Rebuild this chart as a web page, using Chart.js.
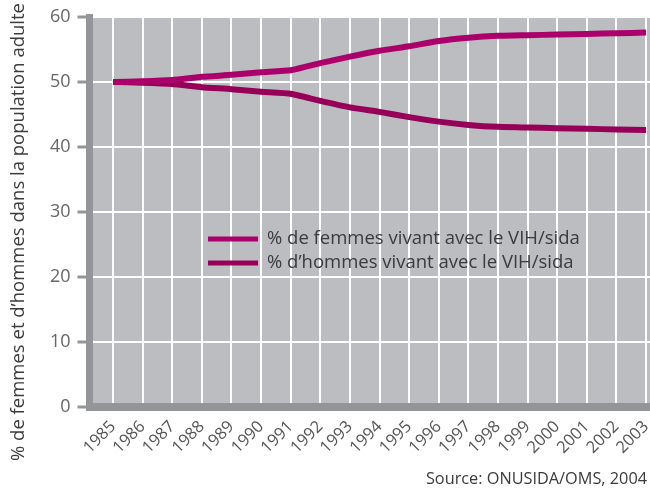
<!DOCTYPE html>
<html>
<head>
<meta charset="utf-8">
<script src="https://cdn.jsdelivr.net/npm/chart.js@4/dist/chart.umd.min.js"></script>
<style>
html,body{margin:0;padding:0;background:#fff;}
canvas{display:block;}
</style>
</head>
<body>
<canvas id="c" width="650" height="489"></canvas>
<script>
const years = [1985,1986,1987,1988,1989,1990,1991,1992,1993,1994,1995,1996,1997,1998,1999,2000,2001,2002,2003];
const women = [50.0,50.1,50.3,50.8,51.1,51.5,51.8,52.9,53.9,54.8,55.5,56.3,56.8,57.1,57.2,57.3,57.4,57.5,57.6];
const men   = [50.0,49.9,49.7,49.2,48.9,48.5,48.2,47.1,46.1,45.4,44.6,43.9,43.4,43.1,43.0,42.9,42.8,42.7,42.6];
const yTicks = [0,10,20,30,40,50,60];
const seriesLabels = ['% de femmes vivant avec le VIH/sida', '% d\u2019hommes vivant avec le VIH/sida'];
const yTitle = '% de femmes et d\u2019hommes dans la population adulte';
const sourceText = 'Source: ONUSIDA/OMS, 2004';

const FONT = '"Open Sans", "Liberation Sans", sans-serif';
const C_WOMEN = '#ab006b';
const C_MEN = '#960059';
const C_BG = '#bcbdc0';
const C_AXIS = '#939598';

const bgPlugin = {
  id: 'bg',
  beforeDraw(chart) {
    const a = chart.chartArea, ctx = chart.ctx;
    ctx.save();
    ctx.fillStyle = C_BG;
    ctx.fillRect(a.left, a.top - 1, a.right - a.left, a.bottom - a.top + 1);
    ctx.restore();
  }
};

const textPlugin = {
  id: 'texts',
  afterDraw(chart) {
    const ctx = chart.ctx;
    ctx.save();
    // y title
    ctx.translate(19, 461);
    ctx.rotate(-Math.PI / 2);
    ctx.font = '18.5px ' + FONT;
    ctx.fillStyle = '#3c3c3c';
    ctx.textAlign = 'left';
    ctx.textBaseline = 'middle';
    ctx.fillText(yTitle, 0, 0);
    ctx.restore();

    // legend
    ctx.save();
    const items = chart.data.datasets;
    const ys = [239, 263];
    items.forEach((ds, i) => {
      ctx.strokeStyle = ds.borderColor;
      ctx.lineWidth = 5;
      ctx.beginPath();
      ctx.moveTo(208, ys[i]);
      ctx.lineTo(258, ys[i]);
      ctx.stroke();
      ctx.font = '18.5px ' + FONT;
      ctx.fillStyle = '#3a3a3a';
      ctx.textAlign = 'left';
      ctx.textBaseline = 'middle';
      ctx.fillText(ds.label, 267, ys[i]);
    });
    // source
    ctx.font = '16.3px ' + FONT;
    ctx.fillStyle = '#3a3a3a';
    ctx.textAlign = 'right';
    ctx.textBaseline = 'alphabetic';
    ctx.fillText(sourceText, 647, 484);
    ctx.restore();
  }
};

new Chart(document.getElementById('c'), {
  type: 'line',
  data: {
    datasets: [
      { label: seriesLabels[0], data: years.map((y, i) => ({x: y, y: women[i]})), borderColor: C_WOMEN, borderWidth: 6, pointRadius: 0, tension: 0.15, fill: false },
      { label: seriesLabels[1], data: years.map((y, i) => ({x: y, y: men[i]})), borderColor: C_MEN, borderWidth: 6, pointRadius: 0, tension: 0.15, fill: false }
    ]
  },
  options: {
    responsive: false,
    animation: false,
    devicePixelRatio: 1,
    layout: { padding: { top: 17, right: 0, left: 0, bottom: 0 } },
    plugins: { legend: { display: false }, tooltip: { enabled: false }, title: { display: false } },
    scales: {
      x: {
        type: 'linear',
        min: 1984.206,
        max: 2003.135,
        afterBuildTicks: s => { s.ticks = years.map(v => ({ value: v })); },
        afterFit: s => { s.height = 82; s.paddingLeft = 0; s.paddingRight = 0; },
        ticks: { autoSkip: false, minRotation: 45, maxRotation: 45, padding: 10, color: '#555', font: { family: FONT, size: 16.5 }, callback: v => String(v) },
        grid: { color: '#ffffff', lineWidth: 2, drawTicks: false },
        border: { color: C_AXIS, width: 8 }
      },
      y: {
        min: 0,
        max: 60,
        afterBuildTicks: s => { s.ticks = yTicks.map(v => ({ value: v })); },
        afterFit: s => { s.width = 89.5; s.paddingTop = 0; s.paddingBottom = 0; },
        ticks: { padding: 7, color: '#666', font: { family: FONT, size: 18 }, callback: v => String(v) },
        grid: { color: '#ffffff', lineWidth: 2, tickLength: 12, tickColor: C_AXIS, tickWidth: 3 },
        border: { color: C_AXIS, width: 7 }
      }
    }
  },
  plugins: [bgPlugin, textPlugin]
});
</script>
</body>
</html>
